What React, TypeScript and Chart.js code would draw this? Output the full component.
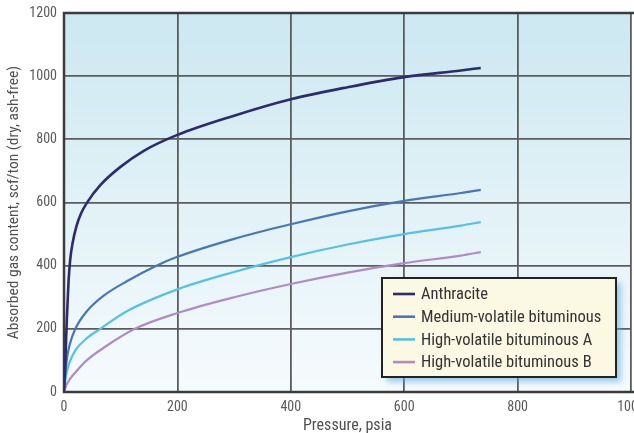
import React, { useEffect, useRef } from "react";
import { Chart, registerables } from "chart.js";

Chart.register(...registerables);

const FONT = '"Roboto Condensed", "Liberation Sans", sans-serif';

const seriesNames = [
  "Anthracite",
  "Medium-volatile bituminous",
  "High-volatile bituminous A",
  "High-volatile bituminous B",
];
const seriesColors = ["#2d2b70", "#4677b6", "#56c1e5", "#b08cc2"];
const seriesWidths = [2.6, 2.2, 2.2, 2.2];

const anthracitePressure = [0, 2, 5, 8, 11, 15, 22, 30, 40, 64, 99, 140, 200, 300, 400, 500, 600, 700, 735];
const anthraciteContent = [0, 80, 230, 350, 420, 470, 525, 565, 598, 655, 712, 763, 814, 875, 927, 965, 997, 1018, 1026];

const mediumPressure = [0, 3, 6, 10, 20, 40, 70, 110, 163, 200, 300, 400, 500, 600, 700, 735];
const mediumContent = [0, 70, 115, 150, 200, 255, 305, 350, 400, 428, 485, 531, 572, 605, 630, 640];

const highAPressure = [0, 3, 6, 10, 20, 40, 64, 110, 200, 300, 400, 500, 600, 700, 735];
const highAContent = [0, 45, 72, 95, 132, 170, 200, 255, 325, 380, 427, 467, 500, 527, 538];

const highBPressure = [0, 5, 10, 20, 40, 70, 125, 200, 300, 400, 500, 600, 700, 735];
const highBContent = [0, 25, 40, 62, 100, 140, 200, 250, 300, 342, 378, 408, 432, 443];

const xTicks = [0, 200, 400, 600, 800, 1000];
const yTicks = [0, 200, 400, 600, 800, 1000, 1200];

const xTitle = "Pressure, psia";
const yTitle = "Absorbed gas content, scf/ton (dry, ash-free)";

const pressures = [anthracitePressure, mediumPressure, highAPressure, highBPressure];
const contents = [anthraciteContent, mediumContent, highAContent, highBContent];

const bgPlugin = {
  id: "bgPlugin",
  beforeDraw(chart: any) {
    const { ctx, chartArea } = chart;
    const g = ctx.createLinearGradient(0, chartArea.top, 0, chartArea.bottom);
    g.addColorStop(0, "#cce8f1");
    g.addColorStop(1, "#f6fbfd");
    ctx.save();
    ctx.fillStyle = g;
    ctx.fillRect(chartArea.left, chartArea.top, chartArea.right - chartArea.left, chartArea.bottom - chartArea.top);
    ctx.restore();
  },
  beforeDatasetsDraw(chart: any) {
    const { ctx, chartArea } = chart;
    ctx.save();
    ctx.strokeStyle = "#3c3c3c";
    ctx.lineWidth = 2.5;
    ctx.beginPath();
    ctx.moveTo(chartArea.right + 3, chartArea.top);
    ctx.lineTo(chartArea.left, chartArea.top);
    ctx.lineTo(chartArea.left, chartArea.bottom);
    ctx.lineTo(chartArea.right + 3, chartArea.bottom);
    ctx.stroke();
    ctx.restore();
  },
};

const legendPlugin = {
  id: "boxLegend",
  afterDraw(chart: any) {
    const { ctx, chartArea } = chart;
    const w = 234;
    const h = 99;
    const x = chartArea.right - 15 - w;
    const y = chartArea.bottom - 15 - h;
    ctx.save();
    ctx.shadowColor = "rgba(80,165,220,0.55)";
    ctx.shadowBlur = 6;
    ctx.shadowOffsetX = 5;
    ctx.shadowOffsetY = 5;
    ctx.fillStyle = "#fbf8e3";
    ctx.fillRect(x, y, w, h);
    ctx.restore();
    ctx.save();
    ctx.strokeStyle = "#222";
    ctx.lineWidth = 2;
    ctx.strokeRect(x, y, w, h);
    ctx.font = "16.5px " + FONT;
    ctx.textBaseline = "middle";
    ctx.textAlign = "left";
    chart.data.datasets.forEach((ds: any, i: number) => {
      const cy = y + 16 + i * 22.7;
      ctx.strokeStyle = ds.borderColor;
      ctx.lineWidth = 2.6;
      ctx.beginPath();
      ctx.moveTo(x + 11, cy);
      ctx.lineTo(x + 33, cy);
      ctx.stroke();
      ctx.fillStyle = "#333";
      ctx.fillText(ds.label, x + 39, cy + 1);
    });
    ctx.restore();
  },
};

export default function App() {
  const ref = useRef<HTMLCanvasElement | null>(null);

  useEffect(() => {
    if (!ref.current) return;
    const datasets = seriesNames.map((name, i) => ({
      label: name,
      data: pressures[i].map((p, j) => ({ x: p, y: contents[i][j] })),
      borderColor: seriesColors[i],
      backgroundColor: seriesColors[i],
      borderWidth: seriesWidths[i],
      pointRadius: 0,
      cubicInterpolationMode: "monotone" as const,
      fill: false,
    }));
    const chart = new Chart(ref.current, {
      type: "line",
      data: { datasets },
      plugins: [bgPlugin, legendPlugin],
      options: {
        animation: false,
        responsive: false,
        devicePixelRatio: 1,
        layout: { padding: { top: 13, right: 3, left: 0, bottom: 0 } },
        plugins: { legend: { display: false }, tooltip: { enabled: false }, title: { display: false } },
        scales: {
          x: {
            type: "linear",
            min: 0,
            max: 1000,
            afterBuildTicks: (axis: any) => {
              axis.ticks = xTicks.map((v) => ({ value: v }));
            },
            afterFit: (axis: any) => {
              axis.height = 41;
              axis.paddingLeft = 0;
              axis.paddingRight = 0;
            },
            grid: { color: "#5c5c5c", lineWidth: 1.8, drawTicks: false },
            border: { display: false },
            ticks: {
              color: "#5a5a5a",
              font: { family: FONT, size: 14 },
              padding: 7,
              maxRotation: 0,
              callback: (v: any) => String(v),
            },
            title: {
              display: true,
              text: xTitle,
              color: "#505050",
              font: { family: FONT, size: 16 },
              padding: { top: 0, bottom: -3 },
            },
          },
          y: {
            type: "linear",
            min: 0,
            max: 1200,
            afterBuildTicks: (axis: any) => {
              axis.ticks = yTicks.map((v) => ({ value: v }));
            },
            afterFit: (axis: any) => {
              axis.width = 64;
              axis.paddingTop = 0;
              axis.paddingBottom = 0;
            },
            grid: { color: "#5c5c5c", lineWidth: 1.8, drawTicks: false },
            border: { display: false },
            ticks: {
              color: "#5a5a5a",
              font: { family: FONT, size: 14 },
              padding: 7,
              callback: (v: any) => String(v),
            },
            title: {
              display: true,
              text: yTitle,
              color: "#505050",
              font: { family: FONT, size: 15.5 },
              padding: { top: 5, bottom: 0 },
            },
          },
        },
      },
    });
    return () => chart.destroy();
  }, []);

  return (
    <div style={{ position: "fixed", left: 0, top: 0, width: 634, height: 433, background: "#fff" }}>
      <canvas ref={ref} width={634} height={433} style={{ display: "block" }} />
    </div>
  );
}
